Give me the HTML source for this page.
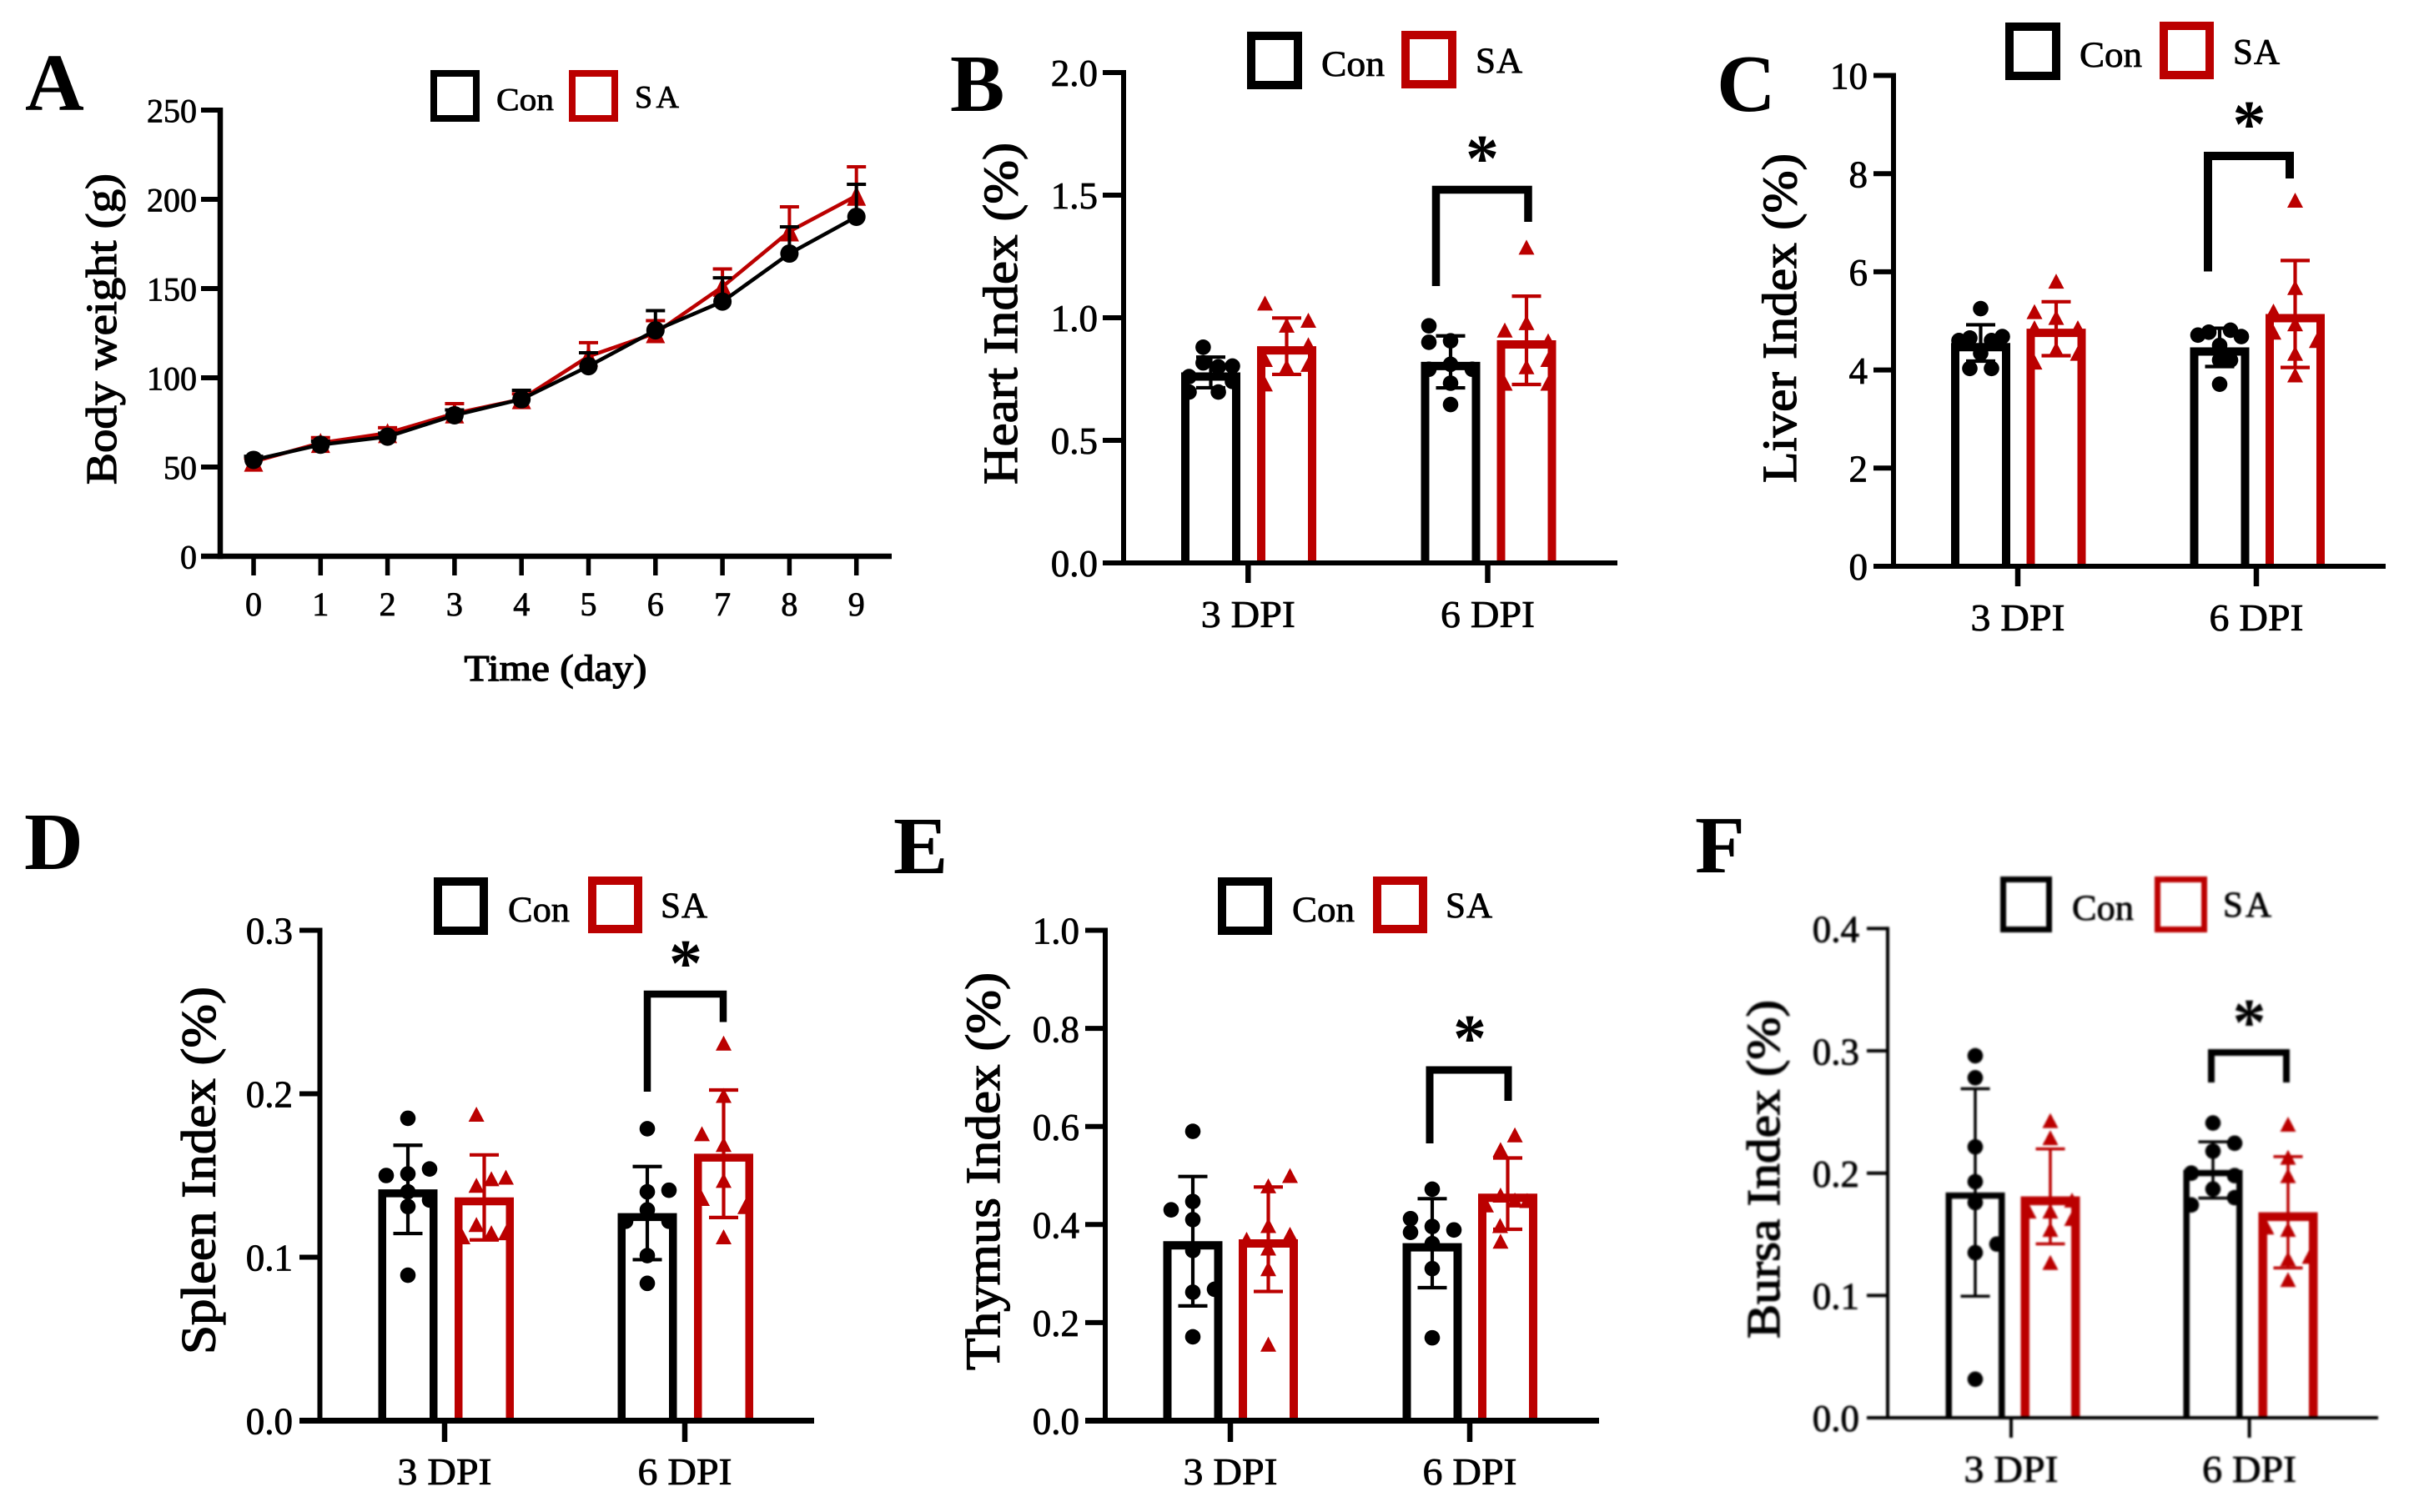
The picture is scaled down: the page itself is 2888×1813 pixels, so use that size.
<!DOCTYPE html>
<html lang="en">
<head>
<meta charset="utf-8">
<title>Body weight and organ indices</title>
<style>
  html, body { margin: 0; padding: 0; background: #fff; }
  svg { display: block; }
  text { font-family: "Liberation Serif", serif; fill: #000; }
  .letter { font-size: 98px; font-weight: 700; }
  .axis-title { font-weight: 400; stroke: #000; stroke-width: 1.3px; }
  .legend-text { stroke: #000; stroke-width: 0.8px; }
  .star { font-size: 80px; font-weight: 700; text-anchor: middle; }
  .box-con { fill: none; stroke: #000; }
  .box-sa { fill: none; stroke: #bb0000; }
  .bracket { fill: none; stroke: #000; }
</style>
</head>
<body>
<svg id="figure" width="2888" height="1813" viewBox="0 0 2888 1813" xmlns="http://www.w3.org/2000/svg">
  <rect width="2888" height="1813" fill="#fff"/>

  <!-- Panel A -->
  <g id="panel-a">
    <text class="letter" x="30" y="132">A</text>
    <text class="axis-title" font-size="52" text-anchor="middle" textLength="373" lengthAdjust="spacingAndGlyphs" transform="translate(139,394.5) rotate(-90)">Body weight (g)</text>
    <text class="axis-title" font-size="44" text-anchor="middle" textLength="219" lengthAdjust="spacingAndGlyphs" x="666" y="816">Time (day)</text>
    <rect class="box-con" stroke-width="8" x="520" y="88" width="51" height="54"/>
    <text class="legend-text" font-size="38" textLength="69" lengthAdjust="spacingAndGlyphs" x="595" y="132">Con</text>
    <rect class="box-sa" stroke-width="8" x="686" y="88" width="51" height="54"/>
    <text class="legend-text" font-size="38" textLength="53" x="761" y="129">SA</text>
  </g>

  <!-- Panel B -->
  <g id="panel-b">
    <text class="letter" x="1139" y="133">B</text>
    <text class="axis-title" font-size="58" text-anchor="middle" textLength="410" lengthAdjust="spacingAndGlyphs" transform="translate(1219,376) rotate(-90)">Heart Index (%)</text>
    <rect class="box-con" stroke-width="10" x="1500" y="43" width="56" height="59"/>
    <text class="legend-text" font-size="43" textLength="76" lengthAdjust="spacingAndGlyphs" x="1584" y="91">Con</text>
    <rect class="box-sa" stroke-width="10" x="1685" y="42" width="56" height="59"/>
    <text class="legend-text" font-size="43" textLength="56" x="1769" y="87">SA</text>
    <path class="bracket" stroke-width="9.5" d="M1721.5 343V227.5H1832V266"/>
    <text class="star" x="1777" y="217">*</text>
  </g>

  <!-- Panel C -->
  <g id="panel-c">
    <text class="letter" x="2058" y="133">C</text>
    <text class="axis-title" font-size="58" text-anchor="middle" textLength="395" lengthAdjust="spacingAndGlyphs" transform="translate(2153,381.5) rotate(-90)">Liver Index (%)</text>
    <rect class="box-con" stroke-width="10" x="2409" y="32" width="56" height="59"/>
    <text class="legend-text" font-size="43" textLength="75" lengthAdjust="spacingAndGlyphs" x="2493" y="80">Con</text>
    <rect class="box-sa" stroke-width="10" x="2594" y="31" width="55" height="59"/>
    <text class="legend-text" font-size="43" textLength="56" x="2677" y="76.5">SA</text>
    <path class="bracket" stroke-width="10" d="M2647 325.5V187H2745V214"/>
    <text class="star" x="2696.5" y="176">*</text>
  </g>

  <!-- Panel D -->
  <g id="panel-d">
    <text class="letter" x="29" y="1042">D</text>
    <text class="axis-title" font-size="58" text-anchor="middle" textLength="441" lengthAdjust="spacingAndGlyphs" transform="translate(257.5,1403.5) rotate(-90)">Spleen Index (%)</text>
    <rect class="box-con" stroke-width="10" x="525" y="1057" width="55" height="59"/>
    <text class="legend-text" font-size="43" textLength="74" lengthAdjust="spacingAndGlyphs" x="609" y="1105">Con</text>
    <rect class="box-sa" stroke-width="10" x="710" y="1056" width="55" height="58"/>
    <text class="legend-text" font-size="43" textLength="56" x="792" y="1100">SA</text>
    <path class="bracket" stroke-width="8.5" d="M776 1309V1192H867V1225.5"/>
    <text class="star" x="822" y="1182">*</text>
  </g>

  <!-- Panel E -->
  <g id="panel-e">
    <text class="letter" x="1071" y="1047">E</text>
    <text class="axis-title" font-size="58" text-anchor="middle" textLength="477" lengthAdjust="spacingAndGlyphs" transform="translate(1198,1404.5) rotate(-90)">Thymus Index (%)</text>
    <rect class="box-con" stroke-width="10" x="1465" y="1057" width="55" height="59"/>
    <text class="legend-text" font-size="43" textLength="75" lengthAdjust="spacingAndGlyphs" x="1549" y="1105">Con</text>
    <rect class="box-sa" stroke-width="10" x="1651" y="1056" width="55" height="58"/>
    <text class="legend-text" font-size="43" textLength="56" x="1733" y="1100">SA</text>
    <path class="bracket" stroke-width="9" d="M1714 1371V1283H1808V1320"/>
    <text class="star" x="1762" y="1272">*</text>
  </g>

  <!-- Panel F -->
  <text class="letter" x="2032" y="1046">F</text>
  <g id="panel-f" style="filter:blur(1px)">
    <text class="axis-title" font-size="56" text-anchor="middle" textLength="406" lengthAdjust="spacingAndGlyphs" transform="translate(2133,1402) rotate(-90)">Bursa Index (%)</text>
    <rect class="box-con" stroke-width="7" x="2401.5" y="1054.5" width="55" height="60"/>
    <text class="legend-text" font-size="43" textLength="74" lengthAdjust="spacingAndGlyphs" x="2484" y="1103">Con</text>
    <rect class="box-sa" stroke-width="7" x="2586.5" y="1054.5" width="56" height="60"/>
    <text class="legend-text" font-size="43" textLength="58" x="2665" y="1099">SA</text>
    <path class="bracket" stroke-width="8" d="M2651 1298V1262H2741V1298"/>
    <text class="star" x="2696.5" y="1253">*</text>
  </g>
</svg>

<script>
// ---------- Panel A: body weight ----------
const dayLabels = ['0','1','2','3','4','5','6','7','8','9'];
const weightTickLabels = ['0','50','100','150','200','250'];
const weightCon = [54, 62.5, 67, 79, 88, 106.5, 126.6, 142.7, 169.6, 190.2];
const weightConSd = [2, 2, 2, 3, 5, 7.5, 11, 13.3, 15, 18.2];
const weightSa = [53, 63.5, 69, 80, 88, 112, 125, 151, 182, 202];
const weightSaSd = [2, 3, 3, 5.5, 3, 7.7, 7, 10, 13.8, 16.2];

// ---------- Shared categories ----------
const dpiLabels = ['3 DPI', '6 DPI'];

// ---------- Panel B: heart index ----------
const heartTickLabels = ['0.0','0.5','1.0','1.5','2.0'];
const heartConMean = [0.777, 0.82];
const heartConSd = [0.0625, 0.106];
const heartSaMean = [0.884, 0.908];
const heartSaSd = [0.115, 0.18];
const heartCon3 = [0.88, 0.816, 0.80, 0.803, 0.76, 0.697, 0.697, 0.74];
const heartCon3Col = [-0.35, -0.35, 0.35, 1, -1, -1, 0.35, 1];
const heartSa3 = [1.06, 0.99, 0.97, 0.89, 0.83, 0.80, 0.73, 0.81];
const heartSa3Col = [-1, 1, 0, 1, -1, 0, -1, 1];
const heartCon6 = [0.967, 0.90, 0.906, 0.81, 0.79, 0.79, 0.733, 0.646];
const heartCon6Col = [-1, -1, 0, 0, -1, 1, 0, 0];
const heartSa6 = [1.288, 0.95, 0.98, 0.906, 0.80, 0.83, 0.733, 0.733];
const heartSa6Col = [0, -1, 0, 1, 0, 1, -1, 1];

// ---------- Panel C: liver index ----------
const liverTickLabels = ['0','2','4','6','8','10'];
const liverConMean = [4.55, 4.46];
const liverConSd = [0.37, 0.39];
const liverSaMean = [4.84, 5.14];
const liverSaSd = [0.55, 1.09];
const liverCon3 = [5.25, 4.68, 4.6, 4.65, 4.6, 4.34, 4.03, 4.03];
const liverCon3Col = [0, 1, -1, -0.5, 0.5, 0, -0.5, 0.5];
const liverSa3 = [5.81, 5.19, 5.07, 4.86, 4.86, 4.42, 4.34, 4.16];
const liverSa3Col = [0, -1, 0, 1, -1, 0, 1, -1];
const liverCon6 = [4.81, 4.71, 4.68, 4.77, 4.5, 4.2, 4.2, 3.71];
const liverCon6Col = [0.5, -1, 1, -0.5, 0, 0, 0.5, 0];
const liverSa6 = [7.46, 5.68, 5.2, 4.94, 4.77, 4.6, 4.34, 3.9];
const liverSa6Col = [0, 0, -1, 0, -1, 1, 0, 0];

// ---------- Panel D: spleen index ----------
const spleenTickLabels = ['0.0','0.1','0.2','0.3'];
const spleenConMean = [0.1415, 0.127];
const spleenConSd = [0.027, 0.0285];
const spleenSaMean = [0.1366, 0.1633];
const spleenSaSd = [0.026, 0.039];
const spleenCon3 = [0.185, 0.154, 0.15, 0.151, 0.14, 0.135, 0.131, 0.089];
const spleenCon3Col = [0, 1, -1, 0, 0, 1, 0, 0];
const spleenSa3 = [0.1875, 0.149, 0.148, 0.144, 0.12, 0.115, 0.1125, 0.115];
const spleenSa3Col = [-0.36, 1, 0.33, -0.36, -0.36, 0.33, -1, 1];
const spleenCon6 = [0.1786, 0.141, 0.14, 0.129, 0.122, 0.122, 0.101, 0.084];
const spleenCon6Col = [0, 1, 0, 0, -1, 1, 0, 0];
const spleenSa6 = [0.231, 0.199, 0.1756, 0.169, 0.147, 0.136, 0.131, 0.1125];
const spleenSa6Col = [0, 0, -1, 0, 0, -1, 1, 0];

// ---------- Panel E: thymus index ----------
const thymusTickLabels = ['0.0','0.2','0.4','0.6','0.8','1.0'];
const thymusConMean = [0.366, 0.362];
const thymusConSd = [0.132, 0.0907];
const thymusSaMean = [0.37, 0.463];
const thymusSaSd = [0.1065, 0.0727];
const thymusCon3 = [0.59, 0.43, 0.447, 0.41, 0.347, 0.262, 0.268, 0.171];
const thymusCon3Col = [0, -1, 0, 0, 0, 0, 1, 0];
const thymusSa3 = [0.5, 0.479, 0.398, 0.38, 0.37, 0.352, 0.31, 0.156];
const thymusSa3Col = [1, 0, 0, 1, -1, 0, 0, 0];
const thymusCon6 = [0.472, 0.412, 0.384, 0.396, 0.389, 0.361, 0.31, 0.169];
const thymusCon6Col = [0, -1, -1, 0, 1, 0, 0, 0];
const thymusSa6 = [0.583, 0.553, 0.46, 0.449, 0.44, 0.45, 0.398, 0.366];
const thymusSa6Col = [0.33, -0.33, -0.33, 0.9, -1, 0.33, -0.35, -0.33];

// ---------- Panel F: bursa index ----------
const bursaTickLabels = ['0.0','0.1','0.2','0.3','0.4'];
const bursaConMean = [0.1842, 0.2026];
const bursaConSd = [0.0848, 0.023];
const bursaSaMean = [0.181, 0.168];
const bursaSaSd = [0.0388, 0.0455];
const bursaCon3 = [0.296, 0.278, 0.2215, 0.193, 0.176, 0.142, 0.135, 0.0315];
const bursaCon3Col = [0, 0, 0, 0, 0, 1, 0, 0];
const bursaSa3 = [0.243, 0.229, 0.178, 0.169, 0.169, 0.154, 0.163, 0.127];
const bursaSa3Col = [0, 0, 1, -1, 0, 0, 1, 0];
const bursaCon6 = [0.241, 0.2245, 0.218, 0.187, 0.198, 0.2, 0.18, 0.174];
const bursaCon6Col = [0, 1, 0, 0, 1, -1, 1, -1];
const bursaSa6 = [0.24, 0.213, 0.198, 0.154, 0.156, 0.13, 0.132, 0.113];
const bursaSa6Col = [0, 0, 0, 0, -1, 0, 1, 0];

// ---------- Drawing helpers ----------
const SVG_NS = 'http://www.w3.org/2000/svg';
const BLACK = '#000';
const RED = '#bb0000';

function make(tag, attrs, parent) {
  const node = document.createElementNS(SVG_NS, tag);
  for (const key in attrs) node.setAttribute(key, attrs[key]);
  parent.appendChild(node);
  return node;
}

function linearScale(d0, d1, r0, r1) {
  return function (v) { return r0 + (v - d0) / (d1 - d0) * (r1 - r0); };
}

function drawAxes(parent, g, yScale, tickLabels, fontSize, axisWidth) {
  const yAxis = make('line', { x1: g.axisX, x2: g.axisX, y1: yScale(parseFloat(tickLabels[tickLabels.length - 1])) - g.tickWidth / 2, y2: g.y0 + axisWidth / 2, stroke: BLACK, 'stroke-width': g.yAxisWidth }, parent);
  
  
  const xAxis = make('line', { x1: g.tickLeft, x2: g.xEnd, y1: g.y0, y2: g.y0, stroke: BLACK, 'stroke-width': axisWidth }, parent);
  
  
  tickLabels.forEach(function (label) {
    const y = yScale(parseFloat(label));
    const tick = make('line', { x1: g.tickLeft, x2: g.axisX, y1: y, y2: y, stroke: BLACK, 'stroke-width': g.tickWidth }, parent);
    
    
    const text = make('text', { x: g.labelRight, y: y + fontSize * 0.36, 'text-anchor': 'end', 'font-size': fontSize, stroke: '#000', 'stroke-width': 0.8 }, parent);
    
    
    text.textContent = label;
  });
}

function drawXTick(parent, x, g, label, fontSize) {
  const tick = make('line', { x1: x, x2: x, y1: g.y0, y2: g.xTickBottom, stroke: BLACK, 'stroke-width': g.xTickWidth }, parent);
  
  
  const text = make('text', { x: x, y: g.xLabelBase, 'text-anchor': 'middle', 'font-size': fontSize, stroke: '#000', 'stroke-width': 0.8 }, parent);
  
  
  if (g.xLabelLen) {
    text.setAttribute('textLength', g.xLabelLen);
    text.setAttribute('lengthAdjust', 'spacingAndGlyphs');
  }
  text.textContent = label;
}

function trianglePath(x, y, w, h) {
  return 'M' + x + ' ' + (y - h / 2) + 'L' + (x + w / 2) + ' ' + (y + h / 2) + 'L' + (x - w / 2) + ' ' + (y + h / 2) + 'Z';
}

function drawErrorUp(parent, x, yTop, yMean, color, capW, sw) {
  const stem = make('line', { x1: x, x2: x, y1: yTop, y2: yMean, stroke: color, 'stroke-width': sw }, parent);
  
  
  const cap = make('line', { x1: x - capW / 2, x2: x + capW / 2, y1: yTop, y2: yTop, stroke: color, 'stroke-width': sw }, parent);
  
  
}

// ---------- Panel A ----------
(function drawWeight() {
  const parent = document.getElementById('panel-a');
  const g = { axisX: 264, tickLeft: 241, xEnd: 1069, y0: 667, tickWidth: 6, yAxisWidth: 6.5, labelRight: 236, xTickBottom: 690, xTickWidth: 5.5, xLabelBase: 738 };
  const y = linearScale(0, 250, 667, 132);
  const x = linearScale(0, 9, 304, 1026.7);

  function lineFor(values, color) {
    const d = values.map(function (v, i) { return (i ? 'L' : 'M') + x(i) + ' ' + y(v); }).join('');
    const line = make('path', { d: d, fill: 'none', stroke: color, 'stroke-width': 4.5 }, parent);
    
    
  }

  lineFor(weightSa, RED);
  weightSa.forEach(function (v, i) {
    drawErrorUp(parent, x(i), y(v + weightSaSd[i]), y(v), RED, 23, 4);
    const tri = make('path', { d: trianglePath(x(i), y(v), 23, 24), fill: RED }, parent);
    
    
  });
  lineFor(weightCon, BLACK);
  weightCon.forEach(function (v, i) {
    drawErrorUp(parent, x(i), y(v + weightConSd[i]), y(v), BLACK, 23, 4);
    const dot = make('circle', { cx: x(i), cy: y(v), r: 11, fill: BLACK }, parent);
    
    
  });

  drawAxes(parent, g, y, weightTickLabels, 40, 6.5);
  dayLabels.forEach(function (label) {
    drawXTick(parent, x(parseFloat(label)), g, label, 40);
  });
})();

// ---------- Bar panels ----------
function barOutline(cx, top, y0, width, sw) {
  const left = cx - width / 2 + sw / 2;
  const right = cx + width / 2 - sw / 2;
  const yTop = top + sw / 2;
  return 'M' + left + ' ' + y0 + 'V' + yTop + 'H' + right + 'V' + y0;
}

function drawBarPanel(id, g, yMax, tickLabels, conMean, conSd, saMean, saSd, conPoints, conCols, saPoints, saCols) {
  const parent = document.getElementById(id);
  const y = linearScale(0, yMax, g.y0, g.yTop);
  const barWidth = 71;
  const jitter = 26;

  dpiLabels.forEach(function (label, groupIndex) {
    const conX = g.x0 + groupIndex * g.groupStep;
    const saX = conX + g.seriesStep;

    // control bar
    const conBar = make('path', { d: barOutline(conX, y(conMean[groupIndex]), g.y0, barWidth, g.conSw), fill: 'none', stroke: BLACK, 'stroke-width': g.conSw }, parent);
    
    
    conPoints[groupIndex].forEach(function (v, i) {
      const dot = make('circle', { cx: conX + conCols[groupIndex][i] * jitter, cy: y(v), r: 9.3, fill: BLACK }, parent);
      
      
    });
    const conHi = y(conMean[groupIndex] + conSd[groupIndex]);
    const conLo = y(conMean[groupIndex] - conSd[groupIndex]);
    drawErrorUp(parent, conX, conHi, conLo, BLACK, 35, g.errWidth);
    const conLow = make('line', { x1: conX - 17.5, x2: conX + 17.5, y1: conLo, y2: conLo, stroke: BLACK, 'stroke-width': g.errWidth }, parent);
    
    

    // SA bar
    const saBar = make('path', { d: barOutline(saX, y(saMean[groupIndex]), g.y0, barWidth, g.saSw), fill: 'none', stroke: RED, 'stroke-width': g.saSw }, parent);
    
    
    saPoints[groupIndex].forEach(function (v, i) {
      const tri = make('path', { d: trianglePath(saX + saCols[groupIndex][i] * jitter, y(v), 19, 18), fill: RED }, parent);
      
      
    });
    const saHi = y(saMean[groupIndex] + saSd[groupIndex]);
    const saLo = y(saMean[groupIndex] - saSd[groupIndex]);
    drawErrorUp(parent, saX, saHi, saLo, RED, 35, g.errWidth);
    const saLow = make('line', { x1: saX - 17.5, x2: saX + 17.5, y1: saLo, y2: saLo, stroke: RED, 'stroke-width': g.errWidth }, parent);
    
    

    drawXTick(parent, g.xTick0 + groupIndex * g.xTickStep, g, label, g.font);
  });

  drawAxes(parent, g, y, tickLabels, g.font, g.xAxisWidth);
}

drawBarPanel('panel-b',
  { axisX: 1347, tickLeft: 1322, xEnd: 1939, y0: 675, yTop: 87, tickWidth: 6, yAxisWidth: 6, xAxisWidth: 6, labelRight: 1316, xTickBottom: 699, xTickWidth: 6.5, xLabelBase: 752, xLabelLen: 113, font: 45, x0: 1451.5, seriesStep: 91, groupStep: 287.5, conSw: 10, saSw: 10, errWidth: 4.2, xTick0: 1496.3, xTickStep: 287.2 },
  2, heartTickLabels, heartConMean, heartConSd, heartSaMean, heartSaSd,
  [heartCon3, heartCon6], [heartCon3Col, heartCon6Col], [heartSa3, heartSa6], [heartSa3Col, heartSa6Col]);

drawBarPanel('panel-c',
  { axisX: 2270, tickLeft: 2246, xEnd: 2860, y0: 679, yTop: 90.5, tickWidth: 6, yAxisWidth: 6, xAxisWidth: 6, labelRight: 2239, xTickBottom: 703, xTickWidth: 6.5, xLabelBase: 756, xLabelLen: 113, font: 45, x0: 2374.5, seriesStep: 90.5, groupStep: 286.5, conSw: 10, saSw: 10, errWidth: 4.2, xTick0: 2419, xTickStep: 286 },
  10, liverTickLabels, liverConMean, liverConSd, liverSaMean, liverSaSd,
  [liverCon3, liverCon6], [liverCon3Col, liverCon6Col], [liverSa3, liverSa6], [liverSa3Col, liverSa6Col]);

drawBarPanel('panel-d',
  { axisX: 383.5, tickLeft: 359, xEnd: 976, y0: 1703.5, yTop: 1115.5, tickWidth: 6, yAxisWidth: 6, xAxisWidth: 7, labelRight: 351, xTickBottom: 1729, xTickWidth: 6.5, xLabelBase: 1780, xLabelLen: 113, font: 45, x0: 489, seriesStep: 91.5, groupStep: 287, conSw: 9.5, saSw: 9.5, errWidth: 4.2, xTick0: 533, xTickStep: 288 },
  0.3, spleenTickLabels, spleenConMean, spleenConSd, spleenSaMean, spleenSaSd,
  [spleenCon3, spleenCon6], [spleenCon3Col, spleenCon6Col], [spleenSa3, spleenSa6], [spleenSa3Col, spleenSa6Col]);

drawBarPanel('panel-e',
  { axisX: 1325, tickLeft: 1301, xEnd: 1917, y0: 1703.5, yTop: 1115.5, tickWidth: 6, yAxisWidth: 6, xAxisWidth: 7, labelRight: 1294, xTickBottom: 1729, xTickWidth: 6.5, xLabelBase: 1780, xLabelLen: 113, font: 45, x0: 1430, seriesStep: 90.5, groupStep: 287, conSw: 10, saSw: 10, errWidth: 4.2, xTick0: 1475, xTickStep: 287 },
  1, thymusTickLabels, thymusConMean, thymusConSd, thymusSaMean, thymusSaSd,
  [thymusCon3, thymusCon6], [thymusCon3Col, thymusCon6Col], [thymusSa3, thymusSa6], [thymusSa3Col, thymusSa6Col]);

drawBarPanel('panel-f',
  { axisX: 2263, tickLeft: 2238, xEnd: 2851, y0: 1700, yTop: 1113.4, tickWidth: 4, yAxisWidth: 4, xAxisWidth: 4, labelRight: 2229, xTickBottom: 1724, xTickWidth: 4, xLabelBase: 1777, xLabelLen: 113, font: 45, x0: 2368, seriesStep: 90, groupStep: 285, conSw: 7.5, saSw: 10.5, errWidth: 3.5, xTick0: 2411, xTickStep: 285.6 },
  0.4, bursaTickLabels, bursaConMean, bursaConSd, bursaSaMean, bursaSaSd,
  [bursaCon3, bursaCon6], [bursaCon3Col, bursaCon6Col], [bursaSa3, bursaSa6], [bursaSa3Col, bursaSa6Col]);
</script>
</body>
</html>
